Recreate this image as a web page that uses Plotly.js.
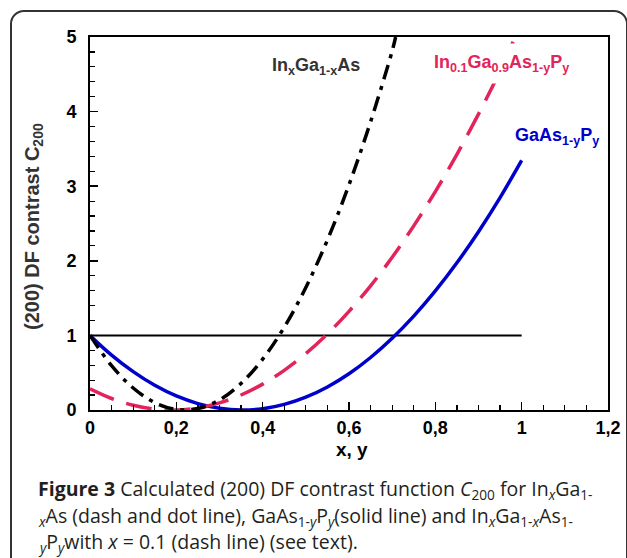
<!DOCTYPE html>
<html>
<head>
<meta charset="utf-8">
<script src="https://cdn.plot.ly/plotly-3.0.1.min.js"></script>
<style>
  html, body { margin: 0; padding: 0; background: #fff; }
  #wrap { position: relative; width: 627px; height: 558px; overflow: hidden; }
  #chart { position: absolute; left: 0; top: 0; width: 627px; height: 558px; }
  #frame { position: absolute; left: 10px; top: 10px; width: 614px; height: 600px;
           border: 2px solid #333; border-radius: 14px; pointer-events: none; }
</style>
</head>
<body>
<div id="wrap">
  <div id="chart"></div>
  <div id="frame"></div>
</div>
<script>
// Values
const xInGaAs = [0, 0.05, 0.10, 0.15, 0.20, 0.25, 0.30, 0.35, 0.40, 0.45, 0.50, 0.55, 0.60, 0.65, 0.70, 0.708];
const cInGaAs = [1.00, 0.594, 0.295, 0.099, 0.008, 0.020, 0.136, 0.357, 0.681, 1.110, 1.642, 2.279, 3.019, 3.864, 4.812, 5.0];

const xInGaAsP = [0, 0.05, 0.10, 0.15, 0.20, 0.25, 0.30, 0.35, 0.40, 0.45, 0.50, 0.55, 0.60, 0.65, 0.70, 0.75, 0.80, 0.85, 0.90, 0.95, 0.985];
const cInGaAsP = [0.284, 0.154, 0.064, 0.013, 0.001, 0.028, 0.095, 0.201, 0.347, 0.532, 0.756, 1.020, 1.323, 1.665, 2.047, 2.468, 2.928, 3.428, 3.967, 4.546, 5.0];

const xGaAsP = [0, 0.05, 0.10, 0.15, 0.20, 0.25, 0.30, 0.35, 0.40, 0.45, 0.50, 0.55, 0.60, 0.65, 0.70, 0.75, 0.80, 0.85, 0.90, 0.95, 1.00];
const cGaAsP = [0.999, 0.736, 0.514, 0.331, 0.188, 0.086, 0.023, 0.000, 0.017, 0.075, 0.172, 0.309, 0.486, 0.704, 0.961, 1.258, 1.596, 1.973, 2.390, 2.847, 3.345];

const xRef = [0, 1];
const cRef = [1, 1];

const xTickVals = [0, 0.2, 0.4, 0.6, 0.8, 1, 1.2];
const xTickText = ['0', '0,2', '0,4', '0,6', '0,8', '1', '1,2'];
const yTickVals = [0, 1, 2, 3, 4, 5];
const yTickText = ['0', '1', '2', '3', '4', '5'];

const labelInGaAs = 'In<sub>x</sub>Ga<sub>1-x</sub>As';
const labelInGaAsP = 'In<sub>0.1</sub>Ga<sub>0.9</sub>As<sub>1-y</sub>P<sub>y</sub>';
const labelGaAsP = 'GaAs<sub>1-y</sub>P<sub>y</sub>';
const yTitle = '(200) DF contrast C<sub>200</sub>';
const xTitle = 'x, y';
const captionLines = [
  '<b>Figure 3</b> Calculated (200) DF contrast function <i>C</i><sub>200</sub> for In<sub><i>x</i></sub>Ga<sub>1-</sub>',
  '<sub><i>x</i></sub>As (dash and dot line), GaAs<sub>1-<i>y</i></sub>P<sub><i>y</i></sub>(solid line) and In<sub><i>x</i></sub>Ga<sub>1-<i>x</i></sub>As<sub>1-</sub>',
  '<sub><i>y</i></sub>P<sub><i>y</i></sub>with <i>x</i> = 0.1 (dash line) (see text).'
];

const BLACK = '#000000', PINK = '#e3245c', BLUE = '#0000cc';
const AX = 'Liberation Sans';

const traces = [
  { x: xRef, y: cRef, mode: 'lines', line: { color: '#000', width: 2 }, hoverinfo: 'skip' },
  { x: xGaAsP, y: cGaAsP, mode: 'lines', line: { color: BLUE, width: 3.5, shape: 'spline' } },
  { x: xInGaAsP, y: cInGaAsP, mode: 'lines', line: { color: PINK, width: 3.5, shape: 'spline', dash: '26px,13px' } },
  { x: xInGaAs, y: cInGaAs, mode: 'lines', line: { color: BLACK, width: 3.5, shape: 'spline', dash: '15px,7px,4px,7px' } }
];

const capAnn = captionLines.map((t, i) => ({
  text: t, xref: 'paper', yref: 'paper',
  x: (36 - 90) / 518, y: (410 - (490 + i * 26)) / 373,
  xanchor: 'left', yanchor: 'middle', align: 'left', showarrow: false,
  font: { family: 'Open Sans', size: 19.5, color: '#231f20' }
}));

const layout = {
  width: 627, height: 558,
  margin: { l: 90, r: 19, t: 37, b: 148 },
  paper_bgcolor: '#fff', plot_bgcolor: '#fff',
  showlegend: false,
  separators: ', ',
  xaxis: {
    range: [0, 1.2], tickvals: xTickVals, ticktext: xTickText,
    ticks: 'inside', ticklen: 8, tickwidth: 1.5, tickcolor: '#000',
    showline: true, linewidth: 2, linecolor: '#000', mirror: true,
    showgrid: false, zeroline: false,
    tickfont: { family: AX, size: 18, color: '#000', weight: 'bold' },
    minor: { dtick: 0.05, tick0: 0, ticks: 'inside', ticklen: 5, tickwidth: 1.2, tickcolor: '#000', showgrid: false }
  },
  yaxis: {
    range: [0, 5], tickvals: yTickVals, ticktext: yTickText,
    ticks: 'inside', ticklen: 8, tickwidth: 1.5, tickcolor: '#000',
    showline: true, linewidth: 2, linecolor: '#000', mirror: true,
    showgrid: false, zeroline: false, ticklabelstandoff: 8,
    tickfont: { family: AX, size: 18, color: '#000', weight: 'bold' },
    minor: { dtick: 0.2, tick0: 0, ticks: 'inside', ticklen: 5, tickwidth: 1.2, tickcolor: '#000', showgrid: false }
  },
  annotations: [
    { text: labelInGaAs, xref: 'x', yref: 'y', x: 0.417, y: 4.60, xanchor: 'left', yanchor: 'middle', showarrow: false,
      font: { family: AX, size: 18, color: '#333', weight: 'bold' } },
    { text: labelInGaAsP, xref: 'x', yref: 'y', x: 0.776, y: 4.65, xanchor: 'left', yanchor: 'middle', showarrow: false,
      bgcolor: '#fff', borderpad: 8,
      font: { family: AX, size: 18, color: PINK, weight: 'bold' } },
    { text: labelGaAsP, xref: 'x', yref: 'y', x: 0.980, y: 3.66, xanchor: 'left', yanchor: 'middle', showarrow: false,
      font: { family: AX, size: 18, color: BLUE, weight: 'bold' } },
    { text: yTitle, xref: 'paper', yref: 'paper', x: (33 - 90) / 518, y: (410 - 227) / 373, textangle: -90,
      xanchor: 'center', yanchor: 'middle', showarrow: false,
      font: { family: AX, size: 20, color: '#333', weight: 'bold' } },
    { text: xTitle, xref: 'paper', yref: 'paper', x: 0.505, y: (410 - 449) / 373,
      xanchor: 'center', yanchor: 'middle', showarrow: false,
      font: { family: AX, size: 19, color: '#000', weight: 'bold' } }
  ].concat(capAnn)
};

Plotly.newPlot('chart', traces, layout, { displayModeBar: false, staticPlot: true });
</script>
</body>
</html>
